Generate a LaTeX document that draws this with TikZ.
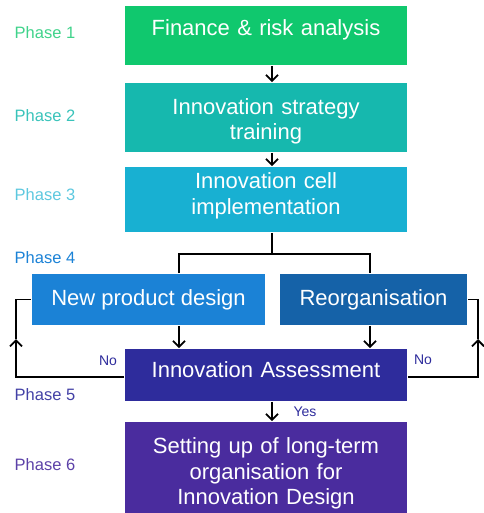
\documentclass[tikz,border=0pt]{standalone}
\usepackage{fontspec}
\setmainfont{Liberation Sans}
\usetikzlibrary{arrows.meta}
\definecolor{cA}{HTML}{10C86E}
\definecolor{cB}{HTML}{16B8AE}
\definecolor{cC}{HTML}{18B0D2}
\definecolor{cD}{HTML}{1B82D6}
\definecolor{cE}{HTML}{1562A8}
\definecolor{cF}{HTML}{2E2C9C}
\definecolor{cG}{HTML}{4A2C9E}
\begin{document}
\begin{tikzpicture}[x=1pt, y=-1pt, line width=1.8pt,
    box/.style = {fill=#1, text=white, inner sep=0pt, align=center, font=\fontsize{22}{25.5}\selectfont},
    phase/.style = {text=#1, inner sep=0pt, font=\fontsize{16.5}{19}\selectfont},
    answer/.style = {text=cF, inner sep=0pt, font=\fontsize{14}{16}\selectfont},
    arr/.style = {-{Straight Barb[length=6pt,width=12pt,line width=1.8pt]}}]
        \useasboundingbox (0,0) rectangle (483,513);
        % boxes
        \node[box=cA, text width=282pt, minimum height=59pt, text height=16pt, text depth=16.6pt] (1) at (266,35.5) {Finance \& risk analysis};
        \node[box=cB, text width=282pt, minimum height=69pt, text height=16pt, text depth=22pt] (2) at (266,117.5) {Innovation strategy\\training};
        \node[box=cC, text width=282pt, minimum height=65pt, text height=16pt, text depth=38pt] (3) at (266,199.5) {Innovation cell\\implementation};
        \node[box=cD, minimum width=233pt, minimum height=51pt] (4a) at (148.5,299.5) {New product design};
        \node[box=cE, minimum width=187pt, minimum height=51pt] (4b) at (373.5,299.5) {Reorganisation};
        \node[box=cF, text width=282pt, minimum height=52pt, text height=16pt, text depth=10.6pt] (5) at (266,375) {Innovation Assessment};
        \node[box=cG, text width=282pt, minimum height=91pt, text height=28pt, text depth=56pt] (6) at (266,467.5) {Setting up of long-term\\organisation for\\Innovation Design};
        % phases
        \node[phase=cA!80!white] (p1) at (45,33) {Phase 1};
        \node[phase=cB!85!white] (p2) at (45,116) {Phase 2};
        \node[phase=cC!70!white] (p3) at (45,195) {Phase 3};
        \node[phase=cD] (p4) at (45,258) {Phase 4};
        \node[phase=cF!90!white] (p5) at (45,395) {Phase 5};
        \node[phase=cG!90!white] (p6) at (45,465) {Phase 6};
        % connectors
        \draw[arr] ([xshift=6pt]1.south) -- ([xshift=6pt]2.north);
        \draw[arr] ([xshift=6pt]2.south) -- ([xshift=6pt]3.north);
        \draw ([xshift=6pt]3.south) -- ++(0,21) coordinate (s);
        \draw ([xshift=30.5pt]4a.north) |- (s) -| ([xshift=-3.5pt]4b.north);
        \draw[arr] ([xshift=30.5pt]4a.south) -- ([xshift=30.5pt]4a.south |- 5.north);
        \draw[arr] ([xshift=-3.5pt]4b.south) -- ([xshift=-3.5pt]4b.south |- 5.north);
        \draw[arr] ([xshift=6pt]5.south) -- ([xshift=6pt]6.north);
        \coordinate (l) at (16,339);
        \coordinate (r) at (478,339);
        \draw[arr] ([yshift=-2pt]5.west) -| (l);
        \draw (l) |- (4a.west);
        \draw[arr] ([yshift=-2pt]5.east) -| (r);
        \draw (r) |- (4b.east);
        % answers
        \node[answer] (n1) at (108,361) {No};
        \node[answer] (n2) at (423,360) {No};
        \node[answer] (y) at (305,412) {Yes};
    \end{tikzpicture}
\end{document}
